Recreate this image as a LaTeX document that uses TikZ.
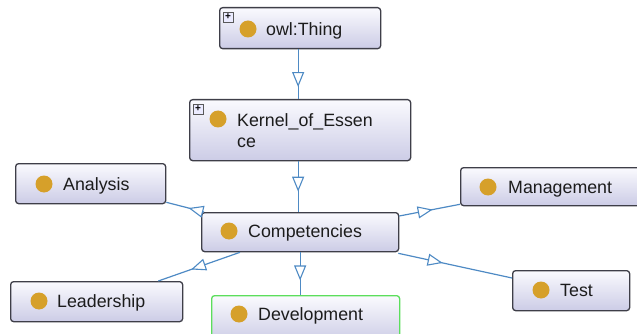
\documentclass[tikz,border=0pt]{standalone}
\usepackage{fontspec}
\setmainfont{Liberation Sans}
\usetikzlibrary{arrows.meta,decorations.markings,calc}

\definecolor{boxtop}{RGB}{250,250,254}
\definecolor{boxbot}{RGB}{204,204,230}
\definecolor{boxline}{RGB}{62,62,72}
\definecolor{dotgold}{RGB}{214,160,42}
\definecolor{edgeblue}{RGB}{78,138,196}
\definecolor{selgreen}{RGB}{92,222,92}
\definecolor{txt}{RGB}{28,28,28}

\tikzset{
  classbox/.style={draw=boxline, line width=1.3pt, rounded corners=3pt,
    top color=boxtop, bottom color=boxbot, inner sep=0pt, anchor=north west},
  selbox/.style={classbox, draw=selgreen},
  dot/.style={circle, fill=dotgold, minimum size=17pt, inner sep=0pt},
  lbl/.style={anchor=base west, inner sep=0pt, text=txt, font=\fontsize{17.8}{21}\selectfont},
  plusbox/.style={draw=gray!70!black, fill=white!92!blue, line width=0.6pt,
    minimum size=10pt, inner sep=0pt, font=\fontsize{10}{10}\selectfont\bfseries},
  opentri/.tip={Triangle[fill=white, length=15pt, width=12pt, line width=1.1pt]},
  isa/.style={draw=edgeblue, line width=1.2pt,
    postaction={decorate, decoration={markings,
      mark=at position #1 with {\arrow[edgeblue]{opentri}}}}},
}

\begin{document}
\begin{tikzpicture}[x=1pt, y=-1pt]
\useasboundingbox (0,0) rectangle (637,334);

% class boxes
\node[classbox, minimum width=161pt, minimum height=41pt] (thing) at (219,7) {};
\node[classbox, minimum width=221pt, minimum height=61pt] (kernel) at (189,99) {};
\node[classbox, minimum width=150pt, minimum height=40pt] (analysis) at (15,163) {};
\node[classbox, minimum width=190pt, minimum height=38pt] (mgmt) at (460,167) {};
\node[classbox, minimum width=197pt, minimum height=39pt] (comp) at (201,212) {};
\node[classbox, minimum width=172pt, minimum height=40pt] (leader) at (10,281) {};
\node[selbox, minimum width=188pt, minimum height=46pt] (dev) at (211,295) {};
\node[classbox, minimum width=117pt, minimum height=40pt] (test) at (512,270) {};

% expand markers
\node[plusbox] (thing-plus) at (228,17) {+};
\node[plusbox] (kernel-plus) at (198,109) {+};

% class icons
\node[dot] (thing-dot) at (248,29) {};
\node[dot] (kernel-dot) at (218,119) {};
\node[dot] (analysis-dot) at (44,184) {};
\node[dot] (mgmt-dot) at (488,187) {};
\node[dot] (comp-dot) at (229,231) {};
\node[dot] (leader-dot) at (39,301) {};
\node[dot] (dev-dot) at (239,314) {};
\node[dot] (test-dot) at (541,290) {};

% class names
\node[lbl] (thing-t) at (266,35.5) {owl:Thing};
\node[lbl] (kernel-t1) at (237,127) {Kernel\_of\_Essen};
\node[lbl] (kernel-t2) at (237,148) {ce};
\node[lbl] (analysis-t) at (63,190.5) {Analysis};
\node[lbl] (mgmt-t) at (508,193.5) {Management};
\node[lbl] (comp-t) at (248,237.5) {Competencies};
\node[lbl] (leader-t) at (57,307.5) {Leadership};
\node[lbl] (dev-t) at (258,320.5) {Development};
\node[lbl] (test-t) at (560,296.5) {Test};

% subclass links
\draw[isa=0.76] ($(thing.south)+(-2,0)$) -- ($(kernel.north)+(-2,0)$);
\draw[isa=0.6] ($(kernel.south)+(-2,0)$) -- ($(comp.north)+(-2,0)$);
\draw[isa=0.66] (comp.south) -- (comp.south |- dev.north);
\draw[isa=0.41] ($(comp.north west)+(3,0)$) -- ($(analysis.south east)+(0,-2)$);
\draw[isa=0.55] ($(comp.north east)+(0,4)$) -- ($(mgmt.south west)+(0,-2)$);
\draw[isa=0.39] ($(comp.south east)+(-1,1)$) -- ($(test.north west)+(0,8)$);
\draw[isa=0.6] ($(comp.south west)+(39,0)$) -- ($(leader.north east)+(-25,0)$);
\end{tikzpicture}
\end{document}
